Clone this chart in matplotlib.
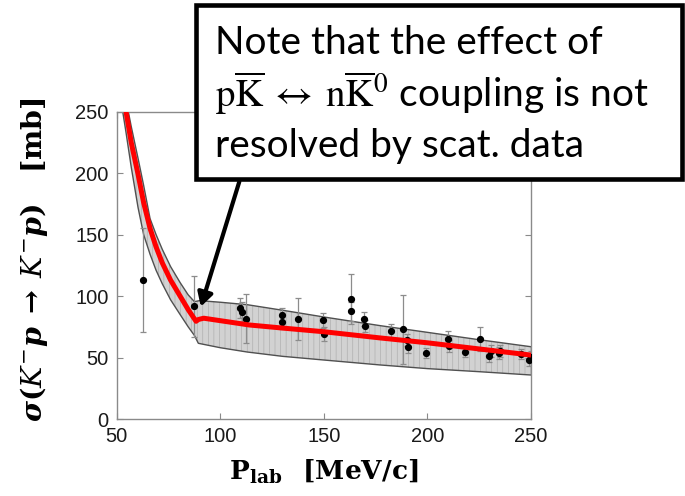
import matplotlib
matplotlib.use('Agg')
import matplotlib.pyplot as plt
from matplotlib.patches import Rectangle, ArrowStyle

# measured cross sections (K- p elastic)
p_data = [62.9, 87.5, 109.6, 110.4, 112.3, 130.0, 130.0, 137.4, 149.8, 150.2,
          163.0, 163.2, 169.6, 169.9, 182.4, 188.0, 189.9, 190.4, 199.4, 209.9,
          210.2, 218.3, 225.5, 229.9, 230.7, 234.4, 235.2, 245.3, 249.2, 250.0]
sig_data = [113.0, 91.7, 90.1, 86.8, 81.6, 84.6, 79.0, 81.6, 80.3, 69.2,
            97.6, 87.6, 81.4, 75.4, 71.6, 73.0, 64.3, 58.8, 53.5, 65.3,
            59.6, 54.8, 65.1, 51.5, 55.6, 53.5, 55.6, 52.6, 48.0, 50.7]
sig_err = [42.0, 25.0, 8.0, 8.0, 20.0, 6.0, 6.0, 17.0, 6.0, 6.0,
           20.0, 8.0, 5.5, 5.0, 6.0, 28.0, 5.0, 5.0, 4.0, 6.0,
           5.0, 4.0, 10.0, 5.0, 5.0, 5.0, 5.0, 4.0, 5.0, 5.0]

# central fit curve
p_fit = [54.5, 57, 60.3, 63, 66.1, 69, 72, 76, 80.6, 84.5, 88.3, 89.5, 92,
         100, 114, 130, 150, 177, 200, 225, 250]
sig_fit = [250, 225, 199, 176, 155, 140, 127, 113, 100, 89, 79.5, 81, 82,
           80, 76.5, 74, 71, 66, 62, 57, 52]

# uncertainty band edges
p_up = [55.6, 57, 60.3, 63, 66.1, 69, 72, 76, 80.6, 84.5, 87.5, 90, 100, 113,
        130, 150, 177, 200, 225, 250]
sig_up = [250, 238, 212, 190, 163, 150, 138, 124, 111, 101, 95.5, 96.3, 95,
          93, 88.5, 83, 76, 70.5, 64.5, 58.8]
p_lo = [52.9, 54.5, 57, 60.3, 63, 66.1, 69, 72, 76, 80.6, 84.5, 87.5, 89.4,
        100, 113, 130, 150, 177, 200, 225, 250]
sig_lo = [250, 233, 205, 172, 150, 134, 121, 110, 97, 85, 75, 68, 61.6, 58,
          54.5, 51, 48, 44, 41, 38.5, 35.8]

plt.rcParams['mathtext.fontset'] = 'stix'
plt.rcParams['hatch.linewidth'] = 0.4

fig = plt.figure(figsize=(6.85, 4.96), dpi=100)
ax = fig.add_axes([0.1704, 0.1552, 0.6048, 0.6196])

band_x = p_up + p_lo[::-1]
band_y = sig_up + sig_lo[::-1]
ax.fill(band_x, band_y, facecolor='#d2d2d2', edgecolor='#a8a8a8',
        hatch='|||', linewidth=0, zorder=1)
ax.plot(p_up, sig_up, color='#505050', lw=1.0, zorder=2)
ax.plot(p_lo, sig_lo, color='#505050', lw=1.0, zorder=2)

ax.errorbar(p_data, sig_data, yerr=sig_err, fmt='o', color='black',
            markersize=4.2, ecolor='#8c8c8c', elinewidth=0.9, capsize=2.5,
            capthick=0.9, zorder=3)
ax.plot(p_fit, sig_fit, color='red', lw=3.6, zorder=4, solid_capstyle='butt')

ax.set_xlim(50, 250)
ax.set_ylim(0, 250)
ax.set_xticks([50, 100, 150, 200, 250])
ax.set_yticks([0, 50, 100, 150, 200, 250])
for side in ax.spines.values():
    side.set_color('#8a8a8a')
    side.set_linewidth(1.0)
ax.tick_params(direction='in', length=4, width=0.8, color='#8a8a8a',
               top=True, right=True, labelsize=14.5, labelcolor='#1a1a1a',
               pad=6)
for lab in ax.get_xticklabels() + ax.get_yticklabels():
    lab.set_family('Liberation Sans')

ax.set_xlabel(r'$\mathbf{P_{lab}}\;\;\;\mathbf{[MeV/c]}$', fontsize=19,
              labelpad=8, math_fontfamily='dejavuserif')
ax.set_ylabel(r'$\boldsymbol{\sigma(K^{-}p\;\rightarrow\;K^{-}p)}'
              r'\;\;\;\;\mathbf{[mb]}$',
              fontsize=20.5, math_fontfamily='dejavuserif')
ax.yaxis.set_label_coords(-0.16, 0.52)

W, H = 685.0, 496.0

# note box
box = Rectangle((195.5 / W, 1 - 179.5 / H), (682 - 195.5) / W, (179.5 - 5) / H,
                transform=fig.transFigure, facecolor='white', edgecolor='black',
                linewidth=3.3, zorder=5)
fig.add_artist(box)

note_font = dict(family=['Lato', 'DejaVu Sans'], fontsize=28, color='black',
                 va='baseline', ha='left', zorder=6)
fig.text(215 / W, 1 - 54 / H, 'Note that the effect of', **note_font)
fig.text(215 / W, 1 - 107 / H,
         r'$\mathrm{p\overline{K}}\;\leftrightarrow\;\mathrm{n\overline{K}^{0}}$'
         ' coupling is not', **note_font)
fig.text(215 / W, 1 - 157 / H, 'resolved by scat. data', **note_font)

ax.annotate('', xy=(90.6, 91.4), xycoords='data',
            xytext=(239.3 / W, 1 - 181.7 / H), textcoords='figure fraction',
            arrowprops=dict(arrowstyle=ArrowStyle('-|>', head_length=8.0,
                                                  head_width=4.5),
                            mutation_scale=1, color='black', lw=3.0,
                            shrinkA=0, shrinkB=0),
            annotation_clip=False, zorder=6)

fig.savefig('out.png', dpi=100, facecolor='white')
